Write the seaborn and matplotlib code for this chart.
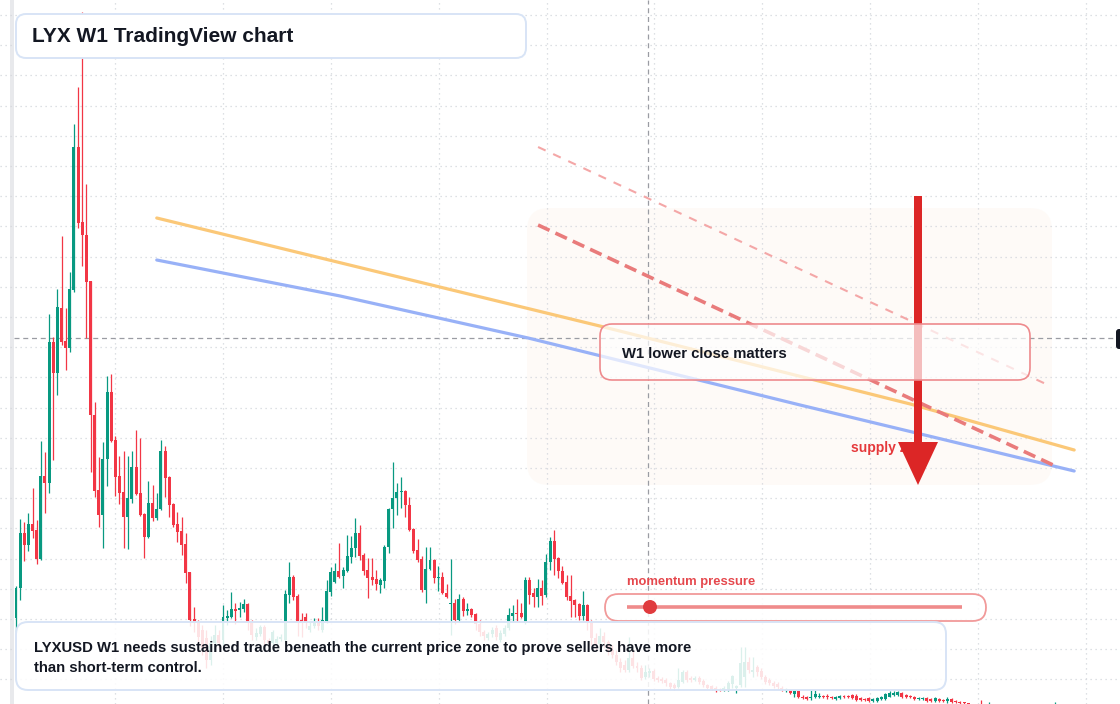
import numpy as np
import pandas as pd
import matplotlib
matplotlib.use("Agg")
import matplotlib.pyplot as plt
from matplotlib.patches import FancyBboxPatch, FancyArrow, Rectangle, Circle
import seaborn as sns

sns.set_style("white")
plt.rcParams['font.family'] = ['Liberation Sans', 'DejaVu Sans']

# weekly candles, prices in cents (LYX/USD, W1)
opens = [
    106, 136, 191, 179, 200, 194, 165, 248, 241, 382,
    351, 416, 383, 376, 434, 577, 502, 489, 443, 309,
    234, 209, 265, 332, 284, 248, 232, 207, 225, 257,
    231, 210, 187, 221, 206, 215, 273, 247, 220, 200,
    193, 180, 152, 105, 102, 94, 86, 64, 81, 89,
    84, 106, 107, 115, 114, 115, 120, 102, 87, 90,
    97, 84, 81, 81, 85, 84, 129, 147, 128, 104,
    107, 94, 98, 102, 94, 103, 132, 142, 153, 148,
    153, 167, 176, 191, 169, 154, 147, 145, 139, 143,
    177, 215, 226, 232, 233, 219, 195, 174, 165, 134,
    155, 164, 146, 147, 131, 120, 121, 104, 125, 113,
    115, 110, 100, 92, 86, 90, 96, 84, 90, 96,
    108, 111, 111, 102, 144, 131, 127, 136, 129, 162,
    183, 166, 153, 142, 128, 124, 120, 108, 119, 102,
    86, 80, 88, 82, 74, 69, 62, 59, 54, 66,
    58, 56, 47, 51, 53, 46, 45, 44, 41, 39,
    37, 42, 52, 46, 44, 46, 43, 39, 38, 36,
    35, 34, 34, 40, 36, 39, 47, 62, 52, 57,
    53, 47, 44, 41, 40, 36, 33, 34, 30, 33,
    27, 27, 26, 27, 27, 28, 28, 27, 25, 26,
    28, 28, 29, 28, 26, 25, 26, 23, 23, 25,
    25, 27, 29, 29, 31, 29, 28, 27, 25, 25,
    26, 25, 23, 25, 24, 23, 25, 23, 22, 22,
    21, 19, 17, 16, 14, 15, 17, 14, 13, 12,
    14, 12, 11, 13, 11, 10, 12, 11, 10, 9,
    11, 10,
]
highs = [
    138, 205, 202, 211, 236, 204, 283, 272, 410, 387,
    435, 488, 416, 452, 600, 637, 712, 540, 443, 322,
    267, 282, 348, 350, 288, 268, 273, 268, 273, 294,
    286, 211, 243, 239, 231, 284, 278, 248, 221, 212,
    207, 191, 152, 117, 104, 99, 94, 88, 99, 94,
    119, 114, 132, 121, 122, 125, 121, 104, 96, 99,
    99, 86, 94, 88, 90, 134, 162, 149, 130, 111,
    111, 102, 106, 106, 117, 144, 157, 161, 181, 157,
    189, 188, 206, 199, 171, 166, 166, 154, 146, 179,
    216, 262, 241, 247, 234, 227, 196, 185, 168, 177,
    177, 165, 158, 152, 140, 165, 125, 130, 127, 121,
    116, 111, 104, 94, 92, 97, 99, 94, 99, 116,
    119, 125, 121, 147, 147, 136, 145, 144, 170, 187,
    194, 167, 158, 149, 149, 125, 121, 133, 120, 104,
    91, 96, 92, 84, 79, 74, 66, 64, 87, 74,
    62, 59, 59, 56, 55, 48, 47, 46, 42, 41,
    56, 54, 54, 48, 48, 48, 45, 40, 39, 38,
    36, 38, 43, 49, 39, 77, 77, 67, 67, 59,
    56, 49, 46, 43, 42, 38, 36, 34, 34, 34,
    29, 28, 34, 34, 31, 29, 30, 28, 28, 29,
    29, 29, 30, 30, 27, 26, 27, 26, 27, 28,
    31, 33, 33, 33, 32, 30, 29, 28, 27, 27,
    27, 26, 27, 26, 25, 27, 26, 24, 23, 22,
    21, 20, 18, 24, 18, 22, 19, 16, 15, 15,
    16, 14, 14, 15, 13, 13, 14, 13, 12, 12,
    13, 22,
]
lows = [
    92, 124, 163, 173, 186, 160, 164, 211, 231, 264,
    329, 379, 354, 372, 432, 496, 458, 386, 252, 227,
    197, 176, 238, 282, 228, 220, 176, 175, 221, 229,
    208, 166, 186, 203, 204, 214, 227, 207, 197, 182,
    169, 141, 98, 92, 79, 69, 56, 59, 76, 76,
    79, 99, 106, 100, 107, 112, 94, 84, 84, 88,
    77, 78, 79, 79, 83, 82, 121, 124, 88, 87,
    96, 92, 96, 94, 92, 101, 128, 141, 146, 136,
    152, 161, 167, 164, 149, 126, 139, 134, 131, 136,
    171, 196, 209, 216, 207, 193, 171, 162, 132, 121,
    154, 141, 133, 130, 126, 89, 100, 102, 108, 109,
    107, 94, 88, 84, 84, 87, 84, 82, 88, 94,
    102, 103, 106, 100, 120, 117, 117, 119, 127, 154,
    149, 146, 140, 124, 107, 107, 104, 104, 94, 79,
    74, 76, 76, 69, 66, 59, 52, 52, 52, 56,
    52, 44, 45, 47, 43, 42, 41, 38, 35, 34,
    36, 41, 42, 42, 43, 40, 37, 35, 34, 32,
    33, 33, 33, 36, 31, 37, 37, 51, 47, 48,
    45, 40, 39, 36, 35, 33, 32, 30, 27, 26,
    25, 24, 24, 26, 26, 26, 25, 25, 24, 25,
    26, 26, 25, 23, 23, 23, 22, 22, 22, 24,
    24, 27, 28, 28, 26, 26, 26, 24, 24, 24,
    22, 22, 22, 22, 22, 21, 21, 21, 20, 19,
    18, 16, 14, 12, 12, 13, 12, 11, 10, 10,
    11, 9, 9, 10, 8, 8, 9, 8, 7, 7,
    8, 8,
]
closes = [
    136, 191, 179, 200, 193, 165, 248, 241, 382, 351,
    417, 382, 376, 435, 577, 501, 489, 442, 309, 233,
    209, 265, 332, 283, 247, 231, 207, 226, 257, 230,
    209, 187, 221, 206, 215, 273, 246, 219, 199, 192,
    179, 151, 104, 101, 87, 76, 64, 81, 89, 81,
    107, 108, 115, 113, 116, 120, 102, 89, 91, 97,
    84, 81, 92, 85, 87, 130, 147, 127, 102, 101,
    101, 98, 102, 98, 104, 133, 152, 153, 147, 154,
    168, 176, 191, 168, 153, 146, 144, 140, 144, 177,
    215, 226, 232, 233, 219, 194, 173, 164, 134, 155,
    164, 146, 147, 131, 127, 121, 104, 125, 113, 115,
    109, 100, 92, 88, 90, 94, 87, 91, 96, 109,
    111, 110, 107, 144, 129, 127, 136, 128, 162, 183,
    165, 153, 141, 127, 123, 119, 108, 119, 102, 86,
    80, 88, 82, 74, 69, 62, 56, 54, 66, 58,
    56, 46, 52, 53, 45, 44, 43, 41, 37, 36,
    44, 52, 44, 44, 46, 42, 39, 36, 35, 34,
    34, 36, 41, 48, 38, 61, 62, 54, 54, 52,
    47, 42, 41, 38, 37, 34, 35, 31, 33, 27,
    26, 25, 27, 30, 28, 27, 27, 26, 27, 28,
    27, 27, 26, 24, 24, 24, 23, 25, 26, 27,
    30, 31, 31, 32, 27, 27, 27, 25, 26, 26,
    23, 23, 26, 23, 23, 25, 22, 22, 21, 21,
    20, 17, 16, 15, 16, 17, 14, 13, 12, 14,
    12, 11, 13, 11, 10, 12, 11, 10, 9, 11,
    10, 13,
]

# drawn trend lines (week index, price in USD)
ema_fast_x = [34, 141, 216, 255.6]
ema_fast_y = [5.06, 3.98, 3.20, 2.74]
ema_slow_x = [34, 78.3, 123.7, 189.4, 255.6]
ema_slow_y = [4.64, 4.28, 3.86, 3.19, 2.53]
trend_x = [126.1, 250.5]
trend_y = [4.99, 2.59]
trend_hi_x = [126.1, 249.8]
trend_hi_y = [5.77, 3.38]
cross_week = 152.7
cross_price = 3.86

n = min(len(opens), len(highs), len(lows), len(closes))
df = pd.DataFrame({
    "week": np.arange(n),
    "open": np.array(opens[:n]) / 100,
    "high": np.array(highs[:n]) / 100,
    "low": np.array(lows[:n]) / 100,
    "close": np.array(closes[:n]) / 100,
})

GREEN = "#089981"
RED = "#f23645"
W, H = 1120, 704
STEP = 4.14  # px per week

fig = plt.figure(figsize=(W / 100, H / 100), dpi=100, facecolor="white")

# background layer (pixel coords)
bg = fig.add_axes([0, 0, 1, 1], zorder=0)
bg.set_xlim(0, W)
bg.set_ylim(H, 0)
bg.axis("off")
bg.add_patch(FancyBboxPatch((527, 208), 525, 277, boxstyle="round,pad=0,rounding_size=22",
                            fc="#fdf6ef", ec="none", alpha=0.45))
bg.add_patch(Rectangle((10, 0), 4, H, fc="#e8e9ec", ec="none"))

# price chart
ax = fig.add_axes([0, 0, 1, 1], zorder=1)
ax.patch.set_alpha(0)
ax.set_xlim(-16 / STEP, (W - 16) / STEP)
ax.set_ylim(0.20, 7.24)
ax.set_yticks((724 - (15 + 30.2 * np.arange(23))) / 100)
ax.set_xticks((115 - 16) / STEP + 26.06 * np.arange(10))
ax.grid(True, color="#d3d6dc", linestyle=(0, (1, 3)), lw=0.9)
ax.tick_params(length=0, labelleft=False, labelbottom=False)
sns.despine(ax=ax, left=True, bottom=True)

ax.axhline(cross_price, xmin=14 / W, xmax=1115 / W, color="#9a9ca3", lw=0.9,
           linestyle=(0, (4, 3)), zorder=1)
ax.axvline(cross_week, color="#9a9ca3", lw=0.9, linestyle=(0, (4, 3)), zorder=1)

up = df["close"] >= df["open"]
col = np.where(up, GREEN, RED)
ax.vlines(df["week"], df["low"], df["high"], colors=col, lw=0.9, zorder=2)
body_lo = np.minimum(df["open"], df["close"])
body_h = np.maximum((df["close"] - df["open"]).abs(), 0.012)
ax.bar(df["week"], body_h, bottom=body_lo, width=0.72, color=col, lw=0, zorder=2)

sns.lineplot(x=ema_fast_x, y=ema_fast_y, ax=ax, color="#fbc878", lw=2.3, zorder=3)
sns.lineplot(x=ema_slow_x, y=ema_slow_y, ax=ax, color="#98b1f7", lw=2.3, zorder=3)
sns.lineplot(x=trend_hi_x, y=trend_hi_y, ax=ax, color="#f4a7a7", lw=1.5,
             linestyle=(0, (4, 4)), zorder=3)
sns.lineplot(x=trend_x, y=trend_y, ax=ax, color="#e97b7b", lw=2.6,
             linestyle=(0, (3.5, 1.8)), zorder=3)

# annotation layer (pixel coords)
fg = fig.add_axes([0, 0, 1, 1], zorder=2)
fg.patch.set_alpha(0)
fg.set_xlim(0, W)
fg.set_ylim(H, 0)
fg.axis("off")

TXT = "#131722"
fg.add_patch(FancyBboxPatch((16, 14), 510, 44, boxstyle="round,pad=0,rounding_size=10",
                            fc="white", ec="#d8e4f6", lw=1.4, zorder=5))
fg.text(32, 36, "LYX W1 TradingView chart", fontsize=15, fontweight="bold",
        color=TXT, va="center", zorder=6)

fg.text(851, 448, "supply zone", fontsize=10, fontweight="bold", color="#e5383b",
        va="center", zorder=2)
fg.add_patch(FancyArrow(918, 196, 0, 289, width=8, head_width=40, head_length=43,
                        length_includes_head=True, fc="#dc2626", ec="none", zorder=3))

fg.add_patch(FancyBboxPatch((600, 324), 430, 56, boxstyle="round,pad=0,rounding_size=12",
                            fc="white", alpha=0.7, ec="none", zorder=4))
fg.add_patch(FancyBboxPatch((600, 324), 430, 56, boxstyle="round,pad=0,rounding_size=12",
                            fc="none", ec="#ee8a8d", lw=1.2, zorder=4))
fg.text(622, 354, "W1 lower close matters", fontsize=10.75, fontweight="bold",
        color=TXT, va="center", zorder=5)

fg.text(627, 582, "momentum pressure", fontsize=9.4, fontweight="bold",
        color="#e5484d", va="center", zorder=5)
fg.add_patch(FancyBboxPatch((605, 594), 381, 27, boxstyle="round,pad=0,rounding_size=13.5",
                            fc="white", alpha=0.85, ec="none", zorder=4))
fg.add_patch(FancyBboxPatch((605, 594), 381, 27, boxstyle="round,pad=0,rounding_size=13.5",
                            fc="none", ec="#f19a9a", lw=1.3, zorder=4))
fg.plot([627, 962], [607, 607], color="#ef8b8b", lw=2.6, solid_capstyle="butt", zorder=5)
fg.add_patch(Circle((650, 607), 7, fc="#e03b3e", ec="none", zorder=6))

fg.add_patch(FancyBboxPatch((16, 622), 930, 68, boxstyle="round,pad=0,rounding_size=12",
                            fc="white", alpha=0.86, ec="none", zorder=4))
fg.add_patch(FancyBboxPatch((16, 622), 930, 68, boxstyle="round,pad=0,rounding_size=12",
                            fc="none", ec="#d8e4f6", lw=1.4, zorder=4))
fg.text(34, 648, "LYXUSD W1 needs sustained trade beneath the current price zone to prove sellers have more",
        fontsize=10.75, fontweight="bold", color=TXT, va="center", zorder=5)
fg.text(34, 668, "than short-term control.", fontsize=10.75, fontweight="bold",
        color=TXT, va="center", zorder=5)

fg.add_patch(FancyBboxPatch((1116, 329), 12, 20, boxstyle="round,pad=0,rounding_size=3",
                            fc="#131722", ec="none", zorder=5, clip_on=False))

fig.savefig("out.png", dpi=100, facecolor="white")
